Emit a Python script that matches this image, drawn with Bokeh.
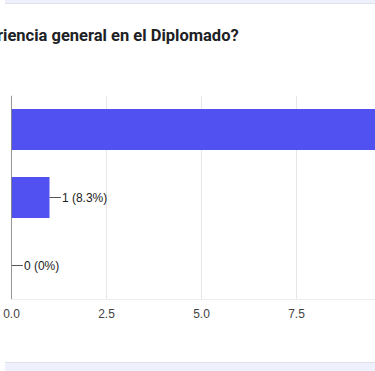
from bokeh.plotting import figure
from bokeh.layouts import column
from bokeh.models import Div, Range1d, FactorRange, ColumnDataSource, Span
from bokeh.embed import file_html
from bokeh.resources import INLINE
from bokeh.core.properties import value

# ---- data ----
title_text = "riencia general en el Diplomado?"
categories = ["Excelente", "Buena", "Regular"]
counts = [11, 1, 0]
percents = ["91.7%", "8.3%", "0%"]
x_ticks = [0.0, 2.5, 5.0, 7.5]

X_MAX = 364 / 38
labels = [f"{c} ({p})" for c, p in zip(counts, percents)]
bars = ColumnDataSource(dict(cat=categories, val=counts))
vis = [i for i, v in enumerate(counts) if v < X_MAX - 2]
lab_src = ColumnDataSource(dict(cat=[categories[i] for i in vis],
                                val=[counts[i] for i in vis],
                                lead=[counts[i] + 0.3 for i in vis],
                                lab=[labels[i] for i in vis]))

W = 375
BAR = "#5151f1"
LAV = "#eef0fb"

top_band = Div(width=W, height=4, styles={"background-color": LAV, "border-bottom": "1px solid #e0e0ec"})
title = Div(text=title_text, width=W, height=45,
            styles={"font-family": "Roboto", "font-weight": "bold", "font-size": "16.5px",
                    "color": "#202124", "padding-top": "10px", "white-space": "nowrap",
                    "box-sizing": "border-box", "text-indent": "-8px"})

p = figure(width=W, height=293, output_backend="svg", toolbar_location=None,
           x_range=Range1d(0, X_MAX), y_range=FactorRange(factors=list(reversed(categories)), range_padding=0),
           min_border_left=11, min_border_right=0, min_border_top=31, min_border_bottom=58)
p.yaxis.visible = False
p.ygrid.grid_line_color = None
p.outline_line_color = None
p.xgrid.grid_line_color = "#e6e6e6"
p.xaxis.ticker = x_ticks
p.xaxis.axis_line_color = "#eeeeee"
p.xaxis.major_tick_line_color = None
p.xaxis.minor_tick_line_color = None
p.xaxis.major_label_text_font = "Liberation Sans"
p.xaxis.major_label_text_font_size = "12px"
p.xaxis.major_label_text_color = "#444444"
p.xaxis.major_label_standoff = 3
p.xaxis.major_label_overrides = {t: f"{t:.1f}" for t in x_ticks}

p.hbar(y="cat", right="val", left=0, height=0.6, source=bars, color=BAR, line_color=None)
p.segment(x0="val", y0="cat", x1="lead", y1="cat", source=lab_src, line_color="#555555", line_width=1)
p.text(x="lead", y="cat", text="lab", source=lab_src, text_font=value("Liberation Sans"), text_font_size="12px",
       text_color="#222222", text_baseline="middle", text_align="left", x_offset=1)
p.add_layout(Span(location=0, dimension="height", line_color="#333333", line_width=1))

bottom_band = Div(width=W, height=10, styles={"background-color": LAV, "border-top": "1px solid #e0e0ec"})

layout = column(top_band, title, p, bottom_band, spacing=0,
                styles={"margin-left": "0px", "margin-top": "-5px"})

open("out.html", "w").write(file_html(layout, INLINE))
